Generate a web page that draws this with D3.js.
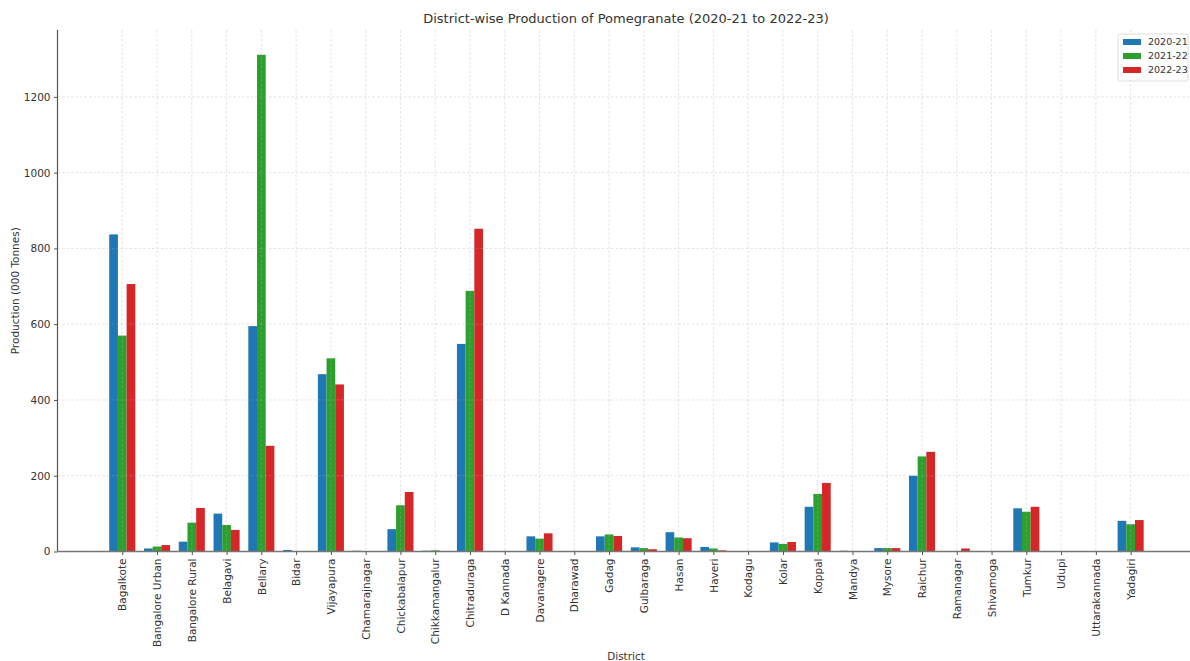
<!DOCTYPE html>
<html>
<head>
<meta charset="utf-8">
<script src="https://cdn.jsdelivr.net/npm/d3@7"></script>
<style>
  body { margin: 0; background: #fff; }
  svg { display: block; font-family: "DejaVu Sans", sans-serif; }
</style>
</head>
<body>
<svg id="chart" width="1190" height="661"></svg>
<script>
const districts = ["Bagalkote","Bangalore Urban","Bangalore Rural","Belagavi","Bellary","Bidar","Vijayapura","Chamarajnagar","Chickabalapur","Chikkamangalur","Chitraduraga","D Kannada","Davanagere","Dharawad","Gadag","Gulbaraga","Hasan","Haveri","Kodagu","Kolar","Koppal","Mandya","Mysore","Raichur","Ramanagar","Shivamoga","Tumkur","Udupi","Uttarakannada","Yadagiri"];
const seriesNames = ["2020-21","2021-22","2022-23"];
const prod2020 = [837, 8, 26, 100, 595, 4, 468, 2, 59, 2, 548, 0, 40, 0, 40, 11, 51, 12, 0, 24, 118, 2, 9, 200, 1, 0, 114, 0, 0, 81];
const prod2021 = [570, 13, 76, 70, 1311, 1, 510, 1, 122, 3, 688, 0, 34, 0, 45, 9, 37, 8, 0, 20, 152, 1, 9, 251, 1, 0, 105, 0, 0, 72];
const prod2022 = [706, 17, 115, 57, 279, 0, 441, 0, 157, 1, 852, 0, 48, 0, 41, 6, 35, 3, 0, 25, 181, 0, 9, 263, 8, 0, 118, 0, 0, 83];
const yTicks = [0, 200, 400, 600, 800, 1000, 1200];
const colors = ["#1f77b4", "#2ca02c", "#d62728"];

const series = [prod2020, prod2021, prod2022];
const svg = d3.select("#chart");
const mLeft = 57.5, mRight = 1195.4, mTop = 30, mBottom = 551.5;
const barW = 0.25;
const n = districts.length;
const xPad = (n - 1 + 2 * 1.5 * barW) * 0.05;
const x = d3.scaleLinear()
  .domain([-1.5 * barW - xPad, n - 1 + 1.5 * barW + xPad])
  .range([mLeft, mRight]);
const yMax = d3.max(series.flat()) * 1.05;
const y = d3.scaleLinear().domain([0, yMax]).range([mBottom, mTop]);

// bars
series.forEach((vals, j) => {
  svg.append("g").selectAll("rect")
    .data(vals)
    .join("rect")
    .attr("x", (d, i) => x(i + (j - 1) * barW - barW / 2))
    .attr("width", (d, i) => x(barW) - x(0))
    .attr("y", d => y(d))
    .attr("height", d => y(0) - y(d))
    .attr("fill", colors[j]);
});

// grid
const grid = svg.append("g").attr("stroke", "#b0b0b0").attr("stroke-opacity", 0.45)
  .attr("stroke-dasharray", "2.5,2").attr("stroke-width", 0.8);
grid.selectAll("line.h").data(yTicks).join("line").attr("class", "h")
  .attr("x1", mLeft).attr("x2", mRight).attr("y1", d => y(d)).attr("y2", d => y(d));
grid.selectAll("line.v").data(districts).join("line").attr("class", "v")
  .attr("x1", (d, i) => x(i)).attr("x2", (d, i) => x(i)).attr("y1", mTop).attr("y2", mBottom);

// y axis
const yAxis = d3.axisLeft(y).tickValues(yTicks).tickSize(3.5).tickPadding(3.5).tickFormat(d3.format("d"));
const gy = svg.append("g").attr("transform", `translate(${mLeft},0)`).call(yAxis);
gy.select(".domain").attr("stroke", "#555").attr("stroke-width", 1.2).attr("d", `M0,${mTop}V${mBottom}`);
gy.selectAll(".tick line").attr("stroke", "#555");
gy.selectAll(".tick text").attr("fill", "#333").style("font-size", "10.5px").style("font-family", "DejaVu Sans");

// x axis
const xAxis = d3.axisBottom(x).tickValues(d3.range(n)).tickSize(3.5).tickPadding(3.5).tickFormat(i => districts[i]);
const gx = svg.append("g").attr("transform", `translate(0,${mBottom})`).call(xAxis);
gx.select(".domain").attr("stroke", "#777").attr("stroke-width", 1.5).attr("d", `M${mLeft},0H${mRight}`);
gx.selectAll(".tick line").attr("stroke", "#555");
gx.selectAll(".tick text")
  .attr("fill", "#333").style("font-size", "10.5px").style("font-family", "DejaVu Sans")
  .attr("text-anchor", "end").attr("dy", "0.35em")
  .attr("transform", "rotate(-90)").attr("x", -7).attr("y", 0);

// title and labels
svg.append("text").attr("x", 626).attr("y", 23).attr("text-anchor", "middle")
  .style("font-size", "13px").attr("fill", "#333")
  .text("District-wise Production of Pomegranate (2020-21 to 2022-23)");
svg.append("text").attr("transform", `translate(19,${(mTop + mBottom) / 2}) rotate(-90)`)
  .attr("text-anchor", "middle").style("font-size", "10.5px").attr("fill", "#333")
  .text("Production (000 Tonnes)");
svg.append("text").attr("x", 626).attr("y", 660).attr("text-anchor", "middle")
  .style("font-size", "10.5px").attr("fill", "#333").text("District");

// legend
const lg = svg.append("g").attr("transform", "translate(1118,34)");
lg.append("rect").attr("width", 70).attr("height", 47).attr("rx", 2)
  .attr("fill", "#fff").attr("fill-opacity", 0.8).attr("stroke", "#ddd");
seriesNames.forEach((s, j) => {
  lg.append("rect").attr("x", 5).attr("y", 5 + j * 14).attr("width", 18).attr("height", 6).attr("fill", colors[j]);
  lg.append("text").attr("x", 30).attr("y", 8 + j * 14).attr("dy", "0.35em")
    .style("font-size", "9.5px").attr("fill", "#333").text(s);
});
</script>
</body>
</html>
